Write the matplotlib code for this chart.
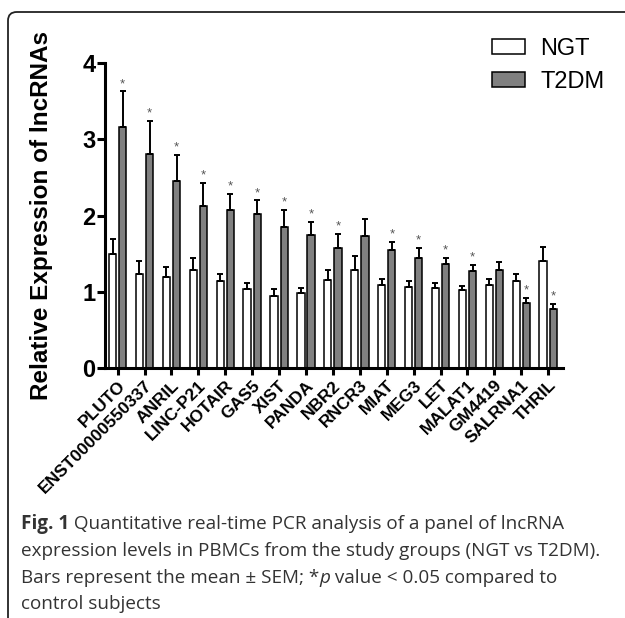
import matplotlib
matplotlib.use("Agg")
import matplotlib.pyplot as plt
import numpy as np
from matplotlib.patches import FancyBboxPatch

categories = ["PLUTO", "ENST00000550337", "ANRIL", "LINC-P21", "HOTAIR", "GAS5",
              "XIST", "PANDA", "NBR2", "RNCR3", "MIAT", "MEG3", "LET", "MALAT1",
              "GM4419", "SALRNA1", "THRIL"]
ngt_mean = [1.50, 1.24, 1.19, 1.28, 1.14, 1.04, 0.94, 0.99, 1.15, 1.29, 1.09, 1.06,
            1.05, 1.03, 1.09, 1.14, 1.41]
ngt_sem = [0.19, 0.17, 0.14, 0.16, 0.10, 0.08, 0.10, 0.06, 0.13, 0.18, 0.08, 0.08,
           0.07, 0.05, 0.08, 0.09, 0.18]
t2dm_mean = [3.17, 2.81, 2.46, 2.13, 2.08, 2.02, 1.85, 1.74, 1.58, 1.73, 1.55, 1.45,
             1.37, 1.27, 1.29, 0.85, 0.78]
t2dm_sem = [0.46, 0.43, 0.34, 0.30, 0.21, 0.18, 0.23, 0.18, 0.18, 0.23, 0.10, 0.13,
            0.07, 0.08, 0.10, 0.07, 0.06]
significant = [True, True, True, True, True, True, True, True, True, False, True, True,
               True, True, False, True, True]
series_labels = ["NGT", "T2DM"]
yticks = [0, 1, 2, 3, 4]

chart_font = "Liberation Sans"
cap_font = "Open Sans"

fig = plt.figure(figsize=(6.25, 6.18), dpi=100)

# rounded frame (only top/left visible)
frame = FancyBboxPatch((8 / 625, -0.2), 1.2, 1.2 - 12 / 618,
                       boxstyle="round,pad=0,rounding_size=0.014",
                       transform=fig.transFigure, fill=False, edgecolor="#222222",
                       linewidth=1.3, zorder=0)
fig.patches.append(frame)

ax = fig.add_axes([105 / 625, 1 - 368 / 618, (562.7 - 105) / 625, (368 - 63.3) / 618])

x = np.arange(len(categories))
w = 0.27
off = 0.19
lw_bar = 1.1
ax.bar(x - off, ngt_mean, w, color="white", edgecolor="black", linewidth=lw_bar,
       label=series_labels[0], zorder=2)
ax.bar(x + off, t2dm_mean, w, color="#808080", edgecolor="black", linewidth=lw_bar,
       label=series_labels[1], zorder=2)
ax.errorbar(x - off, ngt_mean, yerr=[np.zeros(len(x)), ngt_sem], fmt="none",
            ecolor="black", elinewidth=1.4, capsize=2, capthick=1.4, zorder=3)
ax.errorbar(x + off, t2dm_mean, yerr=[np.zeros(len(x)), t2dm_sem], fmt="none",
            ecolor="black", elinewidth=1.4, capsize=2, capthick=1.4, zorder=3)

for xi, m, s, sig in zip(x, t2dm_mean, t2dm_sem, significant):
    if sig:
        ax.annotate("*", (xi + off, m + s), xytext=(0, 1), textcoords="offset points",
                    ha="center", va="bottom", fontsize=9.5, color="#555555",
                    family=chart_font)

ax.set_xlim(-0.47, 16.54)
ax.set_ylim(0, 4)
ax.set_yticks(yticks)
ax.set_yticklabels([str(t) for t in yticks], fontsize=17, fontweight="bold",
                   family=chart_font)
ax.set_xticks(x)
ax.set_xticklabels(categories, rotation=45, ha="right", rotation_mode="anchor",
                   fontsize=12.5, fontweight="bold", family=chart_font)
for sp in ["top", "right"]:
    ax.spines[sp].set_visible(False)
for sp in ["left", "bottom"]:
    ax.spines[sp].set_linewidth(2.2)
ax.tick_params(axis="y", length=6, width=2.2, pad=1)
ax.tick_params(axis="x", length=5, width=2.2, pad=2)

fig.text(42 / 625, 0.5 * ((1 - 368 / 618) + (1 - 63.3 / 618)),
         "Relative Expression of lncRNAs", rotation=90, ha="center", va="center",
         fontsize=17.5, fontweight="bold", family=chart_font)

leg = ax.legend(loc="upper left", bbox_to_anchor=(492 / 625, 1 - 38 / 618),
                bbox_transform=fig.transFigure, frameon=False, borderpad=0,
                borderaxespad=0, handlelength=1.4, handleheight=0.6,
                handletextpad=0.65, labelspacing=0.45,
                prop={"family": chart_font, "size": 17})

# caption
fig.canvas.draw()
renderer = fig.canvas.get_renderer()
cap_color = "#333333"
cap_size = 13.6
W = fig.bbox.width


def put(xpx, ypx, s, **kw):
    t = fig.text(xpx / 625, 1 - ypx / 618, s, va="baseline", ha="left",
                 fontsize=cap_size, family=cap_font, color=cap_color, **kw)
    bb = t.get_window_extent(renderer=renderer)
    return bb.x1 * 625 / W


xx = put(21, 529, "Fig. 1", fontweight="bold")
put(xx, 529, " Quantitative real-time PCR analysis of a panel of lncRNA")
put(21, 556, "expression levels in PBMCs from the study groups (NGT vs T2DM).")
xx = put(21, 583, "Bars represent the mean \u00b1 SEM; *")
xx = put(xx, 583, "p", style="italic")
put(xx, 583, " value < 0.05 compared to")
put(21, 609, "control subjects")

fig.savefig("out.png", dpi=100)
